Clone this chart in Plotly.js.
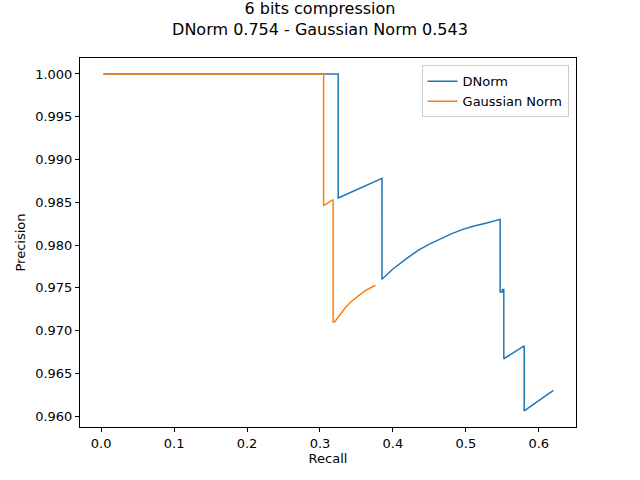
<!DOCTYPE html>
<html>
<head>
<script src="https://cdn.plot.ly/plotly-3.0.1.min.js"></script>
<style>body{margin:0}</style>
</head>
<body>
<div id="chart" style="width:640px;height:480px"></div>
<script>
// values
const dnormRecall = [0.003, 0.325, 0.325, 0.385, 0.385, 0.40, 0.42, 0.435, 0.45, 0.465, 0.48, 0.495, 0.51, 0.53, 0.547, 0.547, 0.550, 0.550, 0.552, 0.552, 0.580, 0.580, 0.620];
const dnormPrecision = [1.000, 1.000, 0.9855, 0.9878, 0.9760, 0.9772, 0.9785, 0.9794, 0.9801, 0.9807, 0.9813, 0.9818, 0.9822, 0.9826, 0.9830, 0.9745, 0.9745, 0.9748, 0.9748, 0.9667, 0.9682, 0.9606, 0.9630];
const gaussRecall = [0.003, 0.305, 0.305, 0.318, 0.318, 0.320, 0.328, 0.335, 0.343, 0.350, 0.358, 0.365, 0.376];
const gaussPrecision = [1.000, 1.000, 0.9846, 0.9853, 0.9710, 0.9710, 0.9719, 0.9727, 0.9734, 0.9739, 0.9744, 0.9748, 0.9753];

const xTicks = [0, 0.1, 0.2, 0.3, 0.4, 0.5, 0.6];
const yTicks = [0.960, 0.965, 0.970, 0.975, 0.980, 0.985, 0.990, 0.995, 1.000];

let data = [
    {x: dnormRecall, y: dnormPrecision, name: 'DNorm', mode: 'lines', line: {color: '#1f77b4', width: 1.5}},
    {x: gaussRecall, y: gaussPrecision, name: 'Gaussian Norm', mode: 'lines', line: {color: '#ff7f0e', width: 1.5}}
];

let axisStyle = {
    showgrid: false, zeroline: false, showline: true, mirror: true,
    linecolor: 'black', linewidth: 1, ticks: 'outside', ticklen: 4, tickcolor: 'black'
};

let layout = {
    width: 640, height: 480,
    margin: {l: 80, r: 64, t: 58, b: 53},
    font: {family: 'DejaVu Sans', size: 13, color: 'black'},
    title: {text: '6 bits compression<br>DNorm 0.754 - Gaussian Norm 0.543', font: {size: 16}, x: 0.5, y: 0.995, yanchor: 'top', pad: {t: 12}},
    xaxis: Object.assign({}, axisStyle, {
        range: [-0.029, 0.651], tickvals: xTicks, ticktext: xTicks.map(v => v.toFixed(1)),
        title: {text: 'Recall', font: {size: 13}, standoff: 4}
    }),
    yaxis: Object.assign({}, axisStyle, {
        range: [0.95872, 1.00187], tickvals: yTicks, ticktext: yTicks.map(v => v.toFixed(3)),
        title: {text: 'Precision', font: {size: 13}, standoff: 6}
    }),
    legend: {x: 0.985, y: 0.98, xanchor: 'right', yanchor: 'top', bordercolor: '#cccccc', borderwidth: 1, bgcolor: 'white', font: {size: 13}},
    plot_bgcolor: 'white', paper_bgcolor: 'white'
};

Plotly.newPlot('chart', data, layout, {displayModeBar: false});
</script>
</body>
</html>
